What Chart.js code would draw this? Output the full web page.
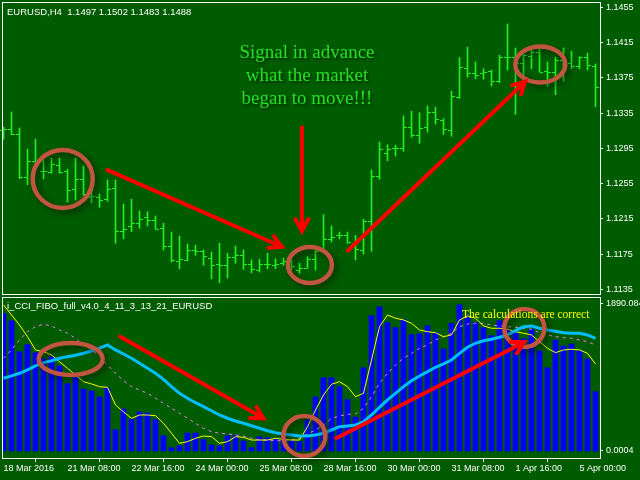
<!DOCTYPE html>
<html lang="en">
<head>
<meta charset="UTF-8">
<title>EURUSD,H4</title>
<script src="https://cdn.jsdelivr.net/npm/chart.js"></script>
<style>
    body {
        margin: 0;
        width: 640px;
        height: 480px;
        overflow: hidden;
        position: relative;
        background-color: #005c00;
        font-family: 'Liberation Sans', Arial, sans-serif;
    }
    canvas { position: absolute; left: 0; }
    #priceChart { top: 0; }
    #cciChart { top: 296px; }
    .label {
        position: absolute;
        color: #ffffff;
        font-size: 9.5px;
        line-height: 11px;
        white-space: pre;
    }
    #header { left: 7px; top: 6px; }
    #indName { left: 7px; top: 300px; }
    #signal {
        position: absolute;
        left: 207px;
        top: 40px;
        width: 200px;
        text-align: center;
        font-family: 'Liberation Serif', 'Times New Roman', serif;
        font-size: 19px;
        line-height: 23px;
        color: #24e024;
        text-shadow: 2px 2px 3px rgba(0, 0, 0, 0.6);
    }
    #calc {
        position: absolute;
        left: 462px;
        top: 307px;
        font-family: 'Liberation Serif', 'Times New Roman', serif;
        font-size: 11.5px;
        line-height: 14px;
        color: #ffff00;
        white-space: nowrap;
    }
</style>
</head>
<body>
    <canvas id="priceChart" width="640" height="296"></canvas>
    <canvas id="cciChart" width="640" height="184"></canvas>

    <div class="label" id="header">EURUSD,H4  1.1497 1.1502 1.1483 1.1488</div>
    <div class="label" id="indName">i_CCI_FIBO_full_v4.0_4_11_3_13_21_EURUSD</div>
    <div id="signal">Signal in advance<br>what the market<br>began to move!!!</div>
    <div id="calc">The calculations are correct</div>

<script>
// time axis: one label every 8 bars (H4)
const timeLabels = ['18 Mar 2016', '21 Mar 08:00', '22 Mar 16:00', '24 Mar 00:00', '25 Mar 08:00',
                    '28 Mar 16:00', '30 Mar 00:00', '31 Mar 08:00', '1 Apr 16:00', '5 Apr 00:00'];
const timeTickBars = [0, 8, 16, 24, 32, 40, 48, 56, 64, 72];

const priceTicks = [1.1135, 1.1175, 1.1215, 1.1255, 1.1295, 1.1335, 1.1375, 1.1415, 1.1455];
const cciTicks = [0.0004, 1890.084];

// EURUSD H4 bars
const opens = [1.13158, 1.13173, 1.13113, 1.12628, 1.12810, 1.12696, 1.12681, 1.12757, 1.12689, 1.12485,
               1.12605, 1.12401, 1.12394, 1.12372, 1.12496, 1.12015, 1.12069, 1.12099, 1.12167, 1.12137,
               1.12046, 1.11841, 1.11675, 1.11680, 1.11796, 1.11781, 1.11705, 1.11640, 1.11622, 1.11713,
               1.11743, 1.11637, 1.11569, 1.11637, 1.11629, 1.11645, 1.11660, 1.11569, 1.11595, 1.11690,
               1.11790, 1.11924, 1.11963, 1.11963, 1.11872, 1.11796, 1.12129, 1.12636, 1.12894, 1.12950,
               1.12954, 1.13189, 1.13105, 1.13189, 1.13362, 1.13272, 1.13158, 1.13529, 1.13862, 1.13808,
               1.13802, 1.13824, 1.13711, 1.13990, 1.13985, 1.13915, 1.13998, 1.14043, 1.13824, 1.13816,
               1.13953, 1.13915, 1.13885, 1.13990, 1.13885];
const highs = [1.13189, 1.13362, 1.13181, 1.12939, 1.13053, 1.12810, 1.12840, 1.12840, 1.12712, 1.12840,
               1.12749, 1.12485, 1.12432, 1.12591, 1.12591, 1.12318, 1.12372, 1.12239, 1.12231, 1.12182,
               1.12099, 1.12000, 1.11955, 1.11864, 1.11849, 1.11796, 1.11773, 1.11872, 1.11759, 1.11841,
               1.11796, 1.11683, 1.11690, 1.11759, 1.11697, 1.11705, 1.11683, 1.11645, 1.11720, 1.11796,
               1.12197, 1.12069, 1.12000, 1.12000, 1.11963, 1.12145, 1.12704, 1.13022, 1.12991, 1.12984,
               1.13317, 1.13370, 1.13354, 1.13430, 1.13416, 1.13286, 1.13597, 1.13979, 1.14097, 1.13930,
               1.13854, 1.13839, 1.14006, 1.14361, 1.14089, 1.14013, 1.14074, 1.14074, 1.13930, 1.13983,
               1.14089, 1.14051, 1.13990, 1.14029, 1.13907];
const lows = [1.13053, 1.13105, 1.12605, 1.12537, 1.12780, 1.12605, 1.12667, 1.12667, 1.12341, 1.12364,
              1.12417, 1.12333, 1.12281, 1.12349, 1.11872, 1.11924, 1.12004, 1.12042, 1.12069, 1.12031,
              1.11796, 1.11660, 1.11584, 1.11675, 1.11736, 1.11622, 1.11470, 1.11425, 1.11478, 1.11645,
              1.11577, 1.11538, 1.11546, 1.11584, 1.11584, 1.11622, 1.11569, 1.11532, 1.11590, 1.11569,
              1.11780, 1.11887, 1.11924, 1.11872, 1.11683, 1.11751, 1.11781, 1.12599, 1.12810, 1.12863,
              1.12916, 1.13075, 1.13007, 1.13135, 1.13226, 1.13109, 1.13087, 1.13516, 1.13756, 1.13740,
              1.13734, 1.13657, 1.13695, 1.13839, 1.13336, 1.13763, 1.13854, 1.13816, 1.13650, 1.13559,
              1.13711, 1.13854, 1.13854, 1.13839, 1.13422];
const closes = [1.13166, 1.13113, 1.12621, 1.12803, 1.12795, 1.12693, 1.12772, 1.12681, 1.12477, 1.12605,
                1.12432, 1.12405, 1.12364, 1.12485, 1.12015, 1.12031, 1.12099, 1.12151, 1.12137, 1.12040,
                1.11841, 1.11683, 1.11690, 1.11796, 1.11788, 1.11728, 1.11629, 1.11625, 1.11713, 1.11736,
                1.11637, 1.11577, 1.11637, 1.11640, 1.11637, 1.11675, 1.11615, 1.11592, 1.11697, 1.11790,
                1.11918, 1.11947, 1.11965, 1.11887, 1.11804, 1.12129, 1.12636, 1.12946, 1.12946, 1.12955,
                1.13189, 1.13098, 1.13181, 1.13362, 1.13280, 1.13166, 1.13541, 1.13870, 1.13802, 1.13786,
                1.13816, 1.13718, 1.13990, 1.13985, 1.13915, 1.14006, 1.14043, 1.13816, 1.13816, 1.13953,
                1.13915, 1.13885, 1.13990, 1.13892, 1.13650];

// indicator window
const cciHist = [1771, 1672, 1277, 1367, 1264, 1183, 1213, 1093, 866, 965,
                 797, 772, 694, 810, 274, 540, 407, 502, 489, 403,
                 197, 43, 68, 231, 231, 146, 77, 68, 197, 197,
                 129, 43, 184, 171, 154, 184, 130, 120, 399, 694,
                 943, 943, 827, 660, 437, 1071, 1740, 1852, 1650, 1586,
                 1689, 1496, 1508, 1611, 1521, 1312, 1642, 1878, 1736, 1650,
                 1586, 1483, 1676, 1565, 1514, 1444, 1565, 1286, 1071, 1427,
                 1350, 1376, 1290, 1183, 763];
const fastLine = [935, 965, 999, 1042, 1093, 1136, 1161, 1192, 1213, 1231,
                  1256, 1286, 1321, 1363, 1299, 1247, 1192, 1128, 1063, 999,
                  922, 827, 742, 678, 621, 570, 518, 463, 421, 386,
                  356, 325, 292, 261, 235, 219, 206, 193, 193, 206,
                  228, 270, 312, 322, 334, 377, 463, 562, 656, 742,
                  827, 904, 965, 1020, 1076, 1119, 1170, 1256, 1334, 1385,
                  1418, 1436, 1462, 1492, 1547, 1598, 1608, 1578, 1556, 1539,
                  1521, 1514, 1514, 1492, 1449];
const signalLine = [1878, 1749, 1620, 1470, 1299, 1277, 1235, 1148, 1063, 977,
                    891, 862, 827, 819, 592, 502, 421, 463, 463, 454,
                    356, 228, 99, 120, 163, 193, 184, 99, 120, 184,
                    176, 141, 141, 141, 163, 150, 141, 141, 312, 527,
                    720, 858, 891, 827, 698, 742, 1170, 1598, 1749, 1707,
                    1685, 1642, 1556, 1534, 1521, 1470, 1492, 1685, 1736, 1707,
                    1608, 1578, 1578, 1565, 1534, 1514, 1492, 1406, 1321, 1264,
                    1299, 1308, 1299, 1256, 1119];
const slowLine = [1192, 1299, 1427, 1534, 1598, 1629, 1608, 1556, 1514, 1449,
                  1363, 1299, 1213, 1106, 999, 904, 827, 784, 742, 678,
                  613, 549, 485, 421, 356, 292, 248, 228, 219, 206,
                  193, 163, 141, 141, 132, 132, 141, 163, 219, 270,
                  334, 421, 450, 472, 476, 549, 698, 871, 999, 1106,
                  1192, 1256, 1321, 1363, 1427, 1470, 1514, 1598, 1633, 1642,
                  1642, 1620, 1608, 1598, 1591, 1578, 1565, 1521, 1492, 1470,
                  1457, 1449, 1427, 1406, 1363];

// hand drawn marks on the screenshot, in (bar, value) units
const priceCircles = [{ i: 7.4, v: 1.12602, rx: 30, ry: 29 },
                      { i: 38.3, v: 1.11626, rx: 22, ry: 18 },
                      { i: 67.1, v: 1.13901, rx: 25, ry: 18 }];
const priceArrows = [{ from: [12.8, 1.12712], to: [34.8, 1.11833] },
                     { from: [37.3, 1.13207], to: [37.3, 1.12012] },
                     { from: [42.9, 1.11777], to: [65.2, 1.13706] }];
const cciCircles = [{ i: 8.4, v: 1183, rx: 32, ry: 16 },
                    { i: 37.6, v: 193, rx: 21, ry: 20 },
                    { i: 65.1, v: 1582, rx: 20, ry: 19 }];
const cciArrows = [{ from: [14.4, 1483], to: [32.5, 420] },
                   { from: [41.4, 154], to: [65.1, 1398] }];

const BAR_COLOR = '#22ee22';
const X_MIN = -0.0625, X_MAX = 74.5625;   // 8 px per bar

Chart.defaults.font.family = "'Liberation Sans', Arial, sans-serif";
Chart.defaults.color = '#ffffff';

// white border round each window
const paneFrame = {
    id: 'paneFrame',
    afterDraw(chart) {
        const a = chart.chartArea, ctx = chart.ctx;
        ctx.save();
        ctx.strokeStyle = '#ffffff';
        ctx.lineWidth = 1;
        ctx.strokeRect(a.left - 0.5, a.top - 0.5, a.right - a.left + 1, a.bottom - a.top + 1);
        ctx.restore();
    }
};

// open tick on the left, close tick on the right
const ohlcTicks = {
    id: 'ohlcTicks',
    afterDatasetsDraw(chart) {
        const xs = chart.scales.x, ys = chart.scales.y, ctx = chart.ctx;
        ctx.save();
        ctx.fillStyle = BAR_COLOR;
        opens.forEach((o, i) => {
            const col = Math.floor(xs.getPixelForValue(i));
            ctx.fillRect(col - 3, Math.round(ys.getPixelForValue(o)), 3, 1);
            ctx.fillRect(col + 1, Math.round(ys.getPixelForValue(closes[i])), 3, 1);
        });
        ctx.restore();
    }
};

function drawNotes(chart, circles, arrows) {
    const ctx = chart.ctx, xs = chart.scales.x, ys = chart.scales.y;
    ctx.save();
    ctx.strokeStyle = '#c2553f';
    ctx.lineWidth = 4.5;
    ctx.shadowColor = 'rgba(0, 0, 0, 0.55)';
    ctx.shadowBlur = 6;
    ctx.shadowOffsetX = 3;
    ctx.shadowOffsetY = 3;
    circles.forEach(c => {
        ctx.beginPath();
        ctx.ellipse(xs.getPixelForValue(c.i), ys.getPixelForValue(c.v), c.rx, c.ry, 0, 0, Math.PI * 2);
        ctx.stroke();
    });
    ctx.shadowColor = 'transparent';
    ctx.strokeStyle = '#ff0000';
    ctx.lineWidth = 4;
    arrows.forEach(a => {
        const x1 = xs.getPixelForValue(a.from[0]), y1 = ys.getPixelForValue(a.from[1]);
        const x2 = xs.getPixelForValue(a.to[0]), y2 = ys.getPixelForValue(a.to[1]);
        const ang = Math.atan2(y2 - y1, x2 - x1);
        ctx.beginPath();
        ctx.moveTo(x1, y1);
        ctx.lineTo(x2, y2);
        ctx.moveTo(x2 - 15 * Math.cos(ang - 0.5), y2 - 15 * Math.sin(ang - 0.5));
        ctx.lineTo(x2, y2);
        ctx.lineTo(x2 - 15 * Math.cos(ang + 0.5), y2 - 15 * Math.sin(ang + 0.5));
        ctx.stroke();
    });
    ctx.restore();
}

function rightAxis(min, max, tickValues, fmt) {
    return {
        position: 'right',
        min: min,
        max: max,
        afterBuildTicks: s => { s.ticks = tickValues.map(v => ({ value: v })); },
        afterFit: s => { s.width = 40; s.paddingTop = 0; s.paddingBottom = 0; },
        ticks: { color: '#ffffff', padding: 3, font: { size: 9 }, callback: fmt },
        grid: { drawOnChartArea: false, color: '#ffffff', tickLength: 3 },
        border: { display: false }
    };
}

// price window
new Chart(document.getElementById('priceChart'), {
    type: 'bar',
    data: {
        datasets: [{
            data: opens.map((_, i) => ({ x: i, y: [lows[i], highs[i]] })),
            backgroundColor: BAR_COLOR,
            barThickness: 1
        }]
    },
    options: {
        responsive: false,
        animation: false,
        devicePixelRatio: 1,
        events: [],
        layout: { padding: { left: 3, top: 3, right: 0, bottom: 2 } },
        plugins: { legend: { display: false }, tooltip: { enabled: false } },
        scales: {
            x: { type: 'linear', display: false, min: X_MIN, max: X_MAX, offset: false },
            y: rightAxis(1.11297, 1.14599, priceTicks, v => v.toFixed(4))
        }
    },
    plugins: [ohlcTicks, paneFrame, { id: 'notes', afterDatasetsDraw: c => drawNotes(c, priceCircles, priceArrows) }]
});

// indicator window
const pts = arr => arr.map((v, i) => ({ x: i, y: v }));

new Chart(document.getElementById('cciChart'), {
    type: 'bar',
    data: {
        datasets: [
            { type: 'line', data: pts(fastLine), borderColor: '#00bfff', borderWidth: 3, pointRadius: 0, order: 1 },
            { type: 'line', data: pts(signalLine), borderColor: '#ffff00', borderWidth: 1, pointRadius: 0, order: 2 },
            { type: 'line', data: pts(slowLine), borderColor: '#ee82ee', borderWidth: 1, borderDash: [3, 4], pointRadius: 0, order: 3 },
            { type: 'bar', data: pts(cciHist), backgroundColor: '#0000ff', barThickness: 5, order: 4 }
        ]
    },
    options: {
        responsive: false,
        animation: false,
        devicePixelRatio: 1,
        events: [],
        layout: { padding: { left: 3, top: 2, right: 0, bottom: 0 } },
        plugins: { legend: { display: false }, tooltip: { enabled: false } },
        scales: {
            x: {
                type: 'linear',
                min: X_MIN,
                max: X_MAX,
                offset: false,
                afterBuildTicks: s => { s.ticks = timeTickBars.map(v => ({ value: v })); },
                afterFit: s => { s.height = 22; s.paddingLeft = 0; s.paddingRight = 0; },
                ticks: {
                    autoSkip: false, maxRotation: 0, minRotation: 0, align: 'start', padding: 1,
                    color: '#ffffff', font: { size: 9 },
                    callback: (v, idx) => timeLabels[idx]
                },
                grid: { drawOnChartArea: false, color: '#ffffff', tickLength: 4 },
                border: { display: false }
            },
            y: rightAxis(-90, 1967, cciTicks, v => (v > 1 ? v.toFixed(3) : v.toFixed(4)))
        }
    },
    plugins: [paneFrame, { id: 'notes', afterDatasetsDraw: c => drawNotes(c, cciCircles, cciArrows) }]
});
</script>
</body>
</html>
